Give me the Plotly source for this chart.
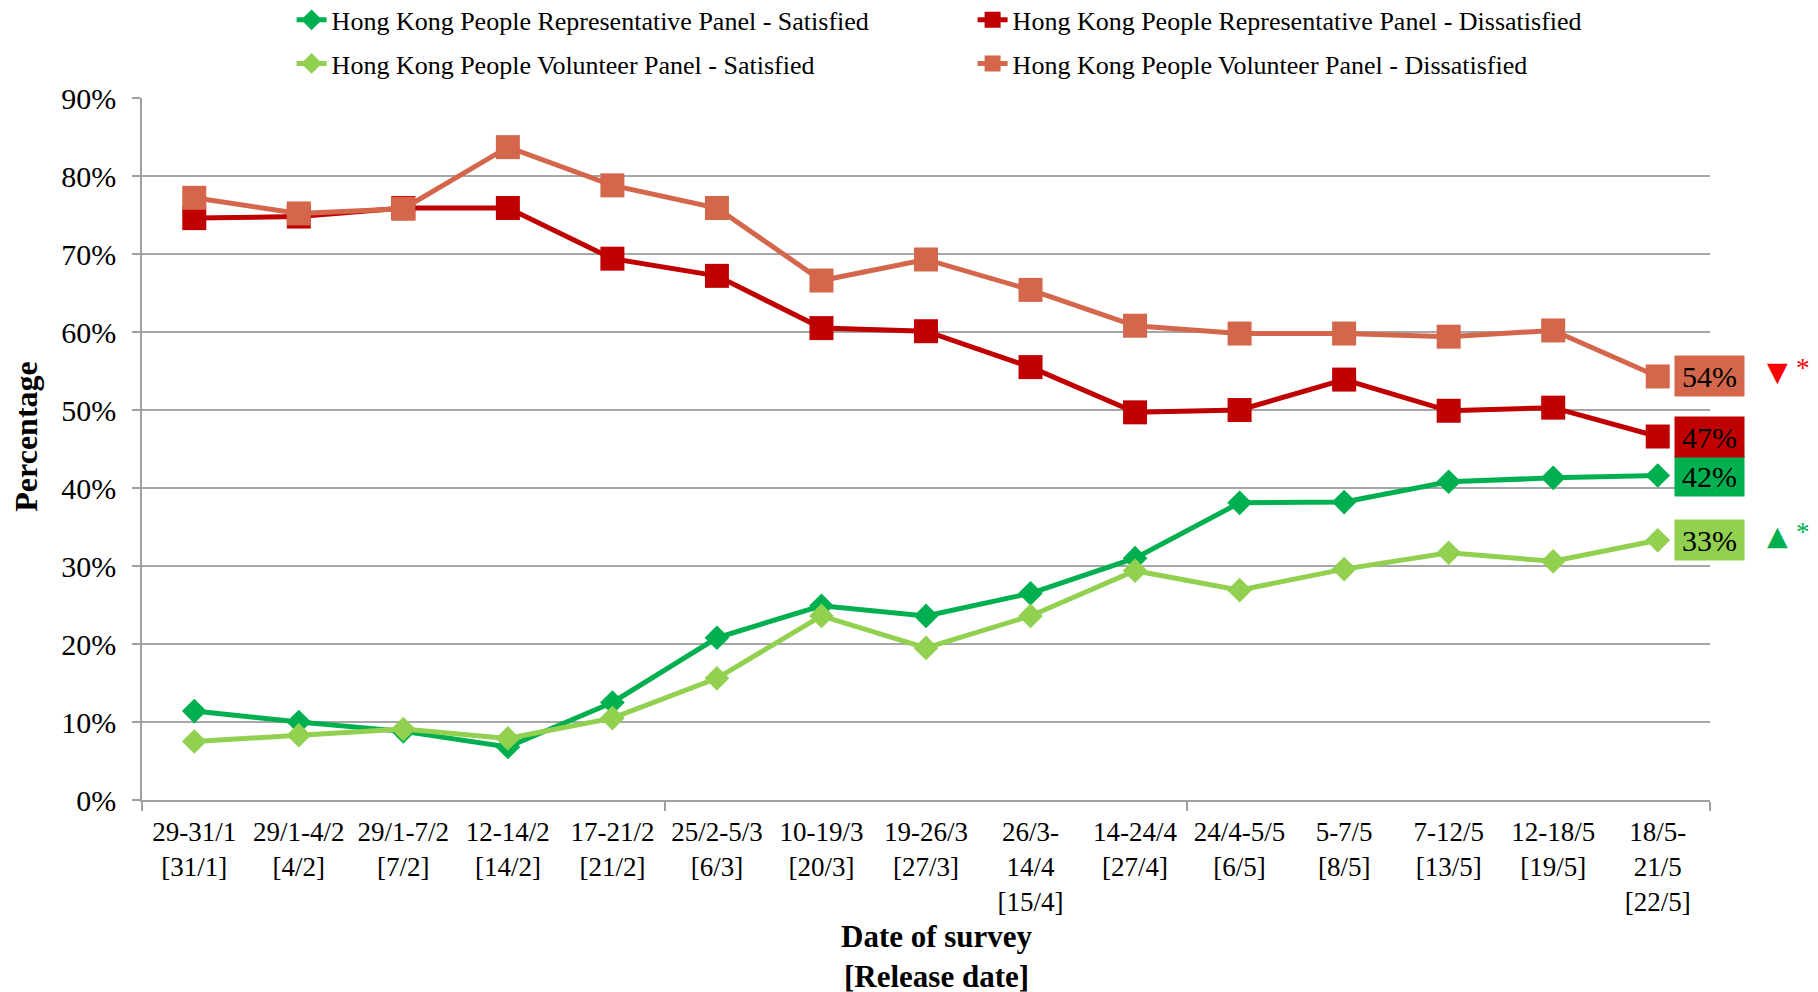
import plotly.graph_objects as go

categories = ["29-31/1<br>[31/1]", "29/1-4/2<br>[4/2]", "29/1-7/2<br>[7/2]", "12-14/2<br>[14/2]",
              "17-21/2<br>[21/2]", "25/2-5/3<br>[6/3]", "10-19/3<br>[20/3]", "19-26/3<br>[27/3]",
              "26/3-<br>14/4<br>[15/4]", "14-24/4<br>[27/4]", "24/4-5/5<br>[6/5]", "5-7/5<br>[8/5]",
              "7-12/5<br>[13/5]", "12-18/5<br>[19/5]", "18/5-<br>21/5<br>[22/5]"]

rep_satisfied = [11.4, 10.0, 8.8, 6.8, 12.5, 20.8, 24.9, 23.6, 26.5, 31.0, 38.1, 38.2, 40.8, 41.3, 41.6]
rep_dissatisfied = [74.6, 74.8, 75.9, 75.9, 69.4, 67.2, 60.5, 60.1, 55.5, 49.7, 50.0, 53.9, 49.9, 50.3, 46.6]
vol_satisfied = [7.5, 8.3, 9.1, 7.9, 10.5, 15.6, 23.6, 19.5, 23.6, 29.4, 26.9, 29.6, 31.7, 30.6, 33.3]
vol_dissatisfied = [77.2, 75.2, 75.8, 83.7, 78.8, 75.9, 66.6, 69.3, 65.4, 60.8, 59.8, 59.8, 59.4, 60.2, 54.3]

series_names = ["Hong Kong People Representative Panel - Satisfied",
                "Hong Kong People Representative Panel - Dissatisfied",
                "Hong Kong People Volunteer Panel - Satisfied",
                "Hong Kong People Volunteer Panel - Dissatisfied"]
series_values = [rep_satisfied, rep_dissatisfied, vol_satisfied, vol_dissatisfied]
series_colors = ["#00B050", "#C00000", "#92D050", "#D4674B"]
series_symbols = ["diamond", "square", "diamond", "square"]
series_sizes = [19, 24, 19, 24]
series_legends = ["legend", "legend", "legend2", "legend2"]

FONT = "Liberation Serif, Times New Roman, serif"
x = list(range(len(categories)))

fig = go.Figure()
for name, vals, col, sym, sz, lg in zip(series_names, series_values, series_colors,
                                         series_symbols, series_sizes, series_legends):
    fig.add_trace(go.Scatter(
        x=x, y=vals, name=name, mode="lines+markers", legend=lg,
        line=dict(color=col, width=5),
        marker=dict(symbol=sym, size=sz, color=col),
    ))

# end-of-line value boxes
for vals, col in zip(series_values, series_colors):
    fig.add_annotation(
        x=x[-1], y=vals[-1], xref="x", yref="y", text=f"{round(vals[-1])}%",
        showarrow=False, xshift=52, width=65, height=36, bgcolor=col,
        font=dict(family=FONT, size=30, color="black"), borderpad=2,
    )

# significance markers
marks = [(vol_dissatisfied, "▼", "#FF0000"), (vol_satisfied, "▲", "#00B050")]
for vals, sym, col in marks:
    fig.add_annotation(x=x[-1], y=vals[-1], xref="x", yref="y", text=sym, showarrow=False,
                       xshift=120, yshift=5, font=dict(family="DejaVu Sans", size=27, color=col))
    fig.add_annotation(x=x[-1], y=vals[-1], xref="x", yref="y", text="*", showarrow=False,
                       xshift=145, yshift=8, font=dict(family=FONT, size=27, color=col))

fig.add_annotation(text="<b>Percentage</b>", xref="paper", yref="paper", x=-0.074, y=0.5175,
                   xanchor="center", yanchor="middle",
                   textangle=-90, showarrow=False, font=dict(family=FONT, size=32, color="black"))
fig.add_annotation(text="<b>Date of survey<br>[Release date]</b>", xref="paper", yref="paper",
                   x=0.507, y=-0.223, xanchor="center", yanchor="middle", showarrow=False,
                   font=dict(family=FONT, size=31, color="black"))

fig.update_layout(
    width=1818, height=992,
    margin=dict(l=134, r=116, t=90, b=200, autoexpand=False),
    paper_bgcolor="white", plot_bgcolor="white",
    font=dict(family=FONT, color="black"),
    legend=dict(orientation="h", xref="container", yref="container", x=0.156, y=0.988,
                xanchor="left", yanchor="middle", entrywidth=636,
                font=dict(family=FONT, size=26, color="black"), bgcolor="rgba(0,0,0,0)"),
    legend2=dict(orientation="h", xref="container", yref="container", x=0.156, y=0.944,
                 xanchor="left", yanchor="middle", entrywidth=636,
                 font=dict(family=FONT, size=26, color="black"), bgcolor="rgba(0,0,0,0)"),
    xaxis=dict(
        range=[-0.5, len(categories) - 0.5], tickmode="array", tickvals=x, ticktext=categories,
        ticks="", showgrid=False, showline=True, linecolor="#A0A0A0", linewidth=1.5,
        tickfont=dict(family=FONT, size=27, color="black"), ticklabelstandoff=7,
        minor=dict(tickmode="array", tickvals=[-0.5, 4.5, 9.5, 14.5], ticks="outside",
                   ticklen=9, tickcolor="#A0A0A0", tickwidth=1.5, showgrid=False),
        zeroline=False,
    ),
    yaxis=dict(
        range=[0, 90], tickmode="linear", tick0=0, dtick=10, ticksuffix="%",
        showgrid=True, gridcolor="#A6A6A6", gridwidth=1.5,
        showline=True, linecolor="#A0A0A0", linewidth=1.5,
        ticks="outside", ticklen=8, tickcolor="#A0A0A0", tickwidth=1.5,
        tickfont=dict(family=FONT, size=30, color="black"), ticklabelstandoff=10,
        zeroline=False,
    ),
)

fig.write_html("out.html")
